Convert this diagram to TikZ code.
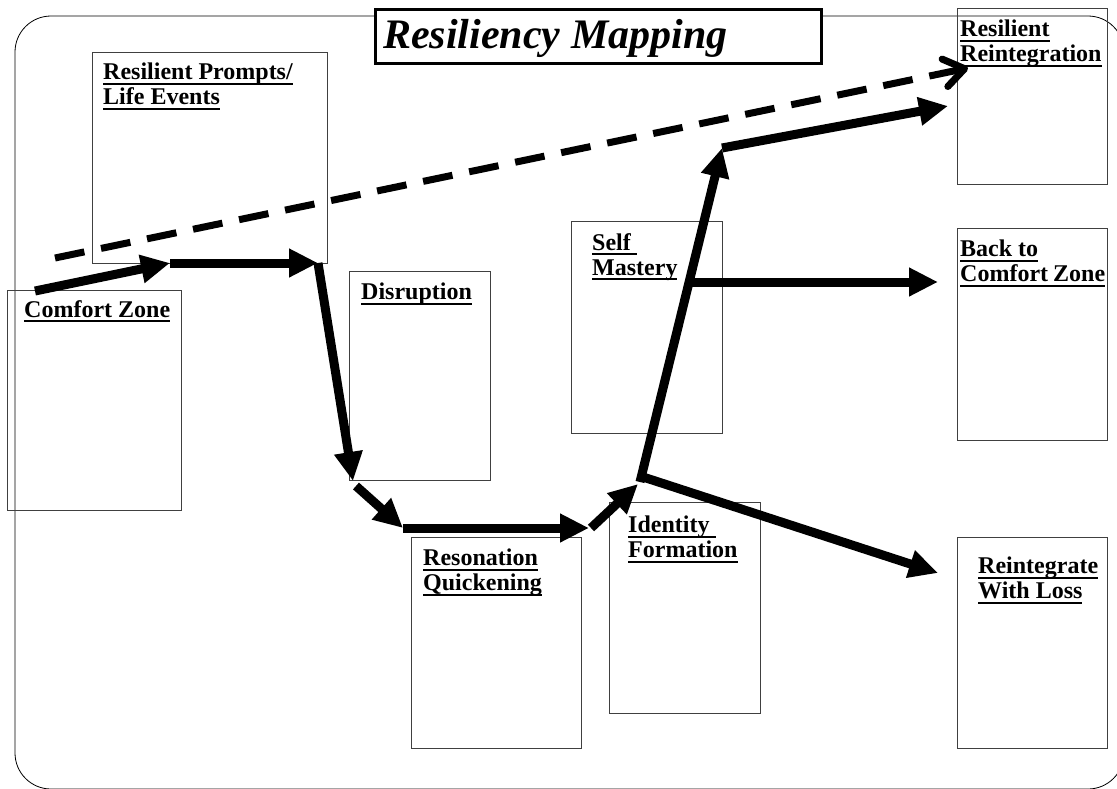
\documentclass[tikz,border=0pt]{standalone}
\usepackage{fontspec}
\setmainfont{Liberation Serif}
\usetikzlibrary{arrows.meta,positioning}

% underline at a fixed depth, as in the slides
\newcommand\stageline[1]{\setbox0=\hbox{#1}\vtop{\copy0\kern-\dp0\kern3pt\hrule height 1.7pt width \wd0}}

\tikzset{
  stage/.style={draw=black!75, line width=0.9pt, anchor=north west, inner sep=0pt},
  stagetext/.style={anchor=north west, inner sep=0pt, align=left,
    font=\fontsize{24}{25}\selectfont\bfseries},
  path arrow/.style={line width=9pt, -{Triangle[length=29pt,width=27pt]}},
  hope arrow/.style={line width=7pt, dash pattern=on 30pt off 17pt,
    -{Straight Barb[length=20pt,width=28pt,round]}},
}

\begin{document}
\begin{tikzpicture}[x=1pt,y=-1pt]
  \useasboundingbox (0,0) rectangle (1117,788);
  \clip (0,0) rectangle (1117,788);
  % outer frame
  \draw[line width=0.8pt, rounded corners=36pt] (15,16) rectangle (1124,789);

  % stage boxes
  \node[stage, minimum width=174pt, minimum height=220pt] (comfort) at (7,290) {};
  \node[stage, minimum width=235pt, minimum height=211pt] (prompts) at (92,52) {};
  \node[stage, minimum width=141pt, minimum height=209pt] (disrupt) at (349,271) {};
  \node[stage, minimum width=170pt, minimum height=211pt] (resonate) at (411,537) {};
  \node[stage, minimum width=151pt, minimum height=211pt] (identity) at (609,502) {};
  \node[stage, minimum width=151pt, minimum height=212pt] (mastery) at (571,221) {};
  \node[stage, minimum width=150pt, minimum height=176pt] (reint) at (957,8) {};
  \node[stage, minimum width=150pt, minimum height=212pt] (backzone) at (957,228) {};
  \node[stage, minimum width=150pt, minimum height=211pt] (loss) at (957,537) {};

  % stage labels
  \node[stagetext] (comfortlbl) at ([xshift=17pt,yshift=-10pt]comfort.north west) {\stageline{Comfort Zone}};
  \node[stagetext] (promptslbl) at ([xshift=11pt,yshift=-11pt]prompts.north west) {\stageline{Resilient Prompts/}\\\stageline{Life Events}};
  \node[stagetext] (disruptlbl) at ([xshift=12pt,yshift=-12pt]disrupt.north west) {\stageline{Disruption}};
  \node[stagetext] (resonatelbl) at ([xshift=12pt,yshift=-12pt]resonate.north west) {\stageline{Resonation}\\\stageline{Quickening}};
  \node[stagetext] (identitylbl) at ([xshift=19pt,yshift=-14pt]identity.north west) {\stageline{Identity\ }\\\stageline{Formation}};
  \node[stagetext] (masterylbl) at ([xshift=21pt,yshift=-12pt]mastery.north west) {\stageline{Self\ }\\\stageline{Mastery}};
  \node[stagetext] (reintlbl) at ([xshift=3pt,yshift=-12pt]reint.north west) {\stageline{Resilient}\\\stageline{Reintegration}};
  \node[stagetext] (backzonelbl) at ([xshift=3pt,yshift=-12pt]backzone.north west) {\stageline{Back to}\\\stageline{Comfort\hspace{5pt}Zone}};
  \node[stagetext] (losslbl) at ([xshift=21pt,yshift=-20pt]loss.north west) {\stageline{Reintegrate}\\\stageline{With Loss}};

  % turning points of the path
  \coordinate (start) at (35,291);
  \coordinate (prompt) at (170,263);
  \coordinate (drop) at (318,263);
  \coordinate (low) at (353,481);
  \coordinate (turn) at (356,486);
  \coordinate (flat) at (403,528);
  \coordinate (flatend) at (589,528);
  \coordinate (rise) at (591,528);
  \coordinate (form) at (638,484);
  \coordinate (climb) at (640,482);
  \coordinate (peak) at (722,148);
  \coordinate (reintend) at (948,106);
  \coordinate (side) at (692,282);
  \coordinate (backend) at (938,282);
  \coordinate (split) at (640,476);
  \coordinate (lossend) at (938,573);
  \coordinate (dashstart) at (55,258);
  \coordinate (dashend) at (968,68);

  \draw[hope arrow] (dashstart) -- (dashend);
  \draw[path arrow] (start) -- (prompt);
  \draw[path arrow] (prompt) -- (drop);
  \draw[path arrow] (drop) -- (low);
  \draw[path arrow] (turn) -- (flat);
  \draw[path arrow] (flat) -- (flatend);
  \draw[path arrow] (rise) -- (form);
  \draw[path arrow] (climb) -- (peak);
  \draw[path arrow] (peak) -- (reintend);
  \draw[path arrow] (side) -- (backend);
  \draw[path arrow] (split) -- (lossend);

  % title
  \node[draw, line width=3pt, fill=white, anchor=north west, inner sep=0pt,
    minimum width=446pt, minimum height=54pt] (title) at (374,8) {};
  \node[anchor=base west, inner sep=0pt, font=\fontsize{42}{48}\selectfont\bfseries\itshape]
    (titletext) at ([xshift=9pt,yshift=-12pt]title.west) {Resiliency Mapping};
\end{tikzpicture}
\end{document}
